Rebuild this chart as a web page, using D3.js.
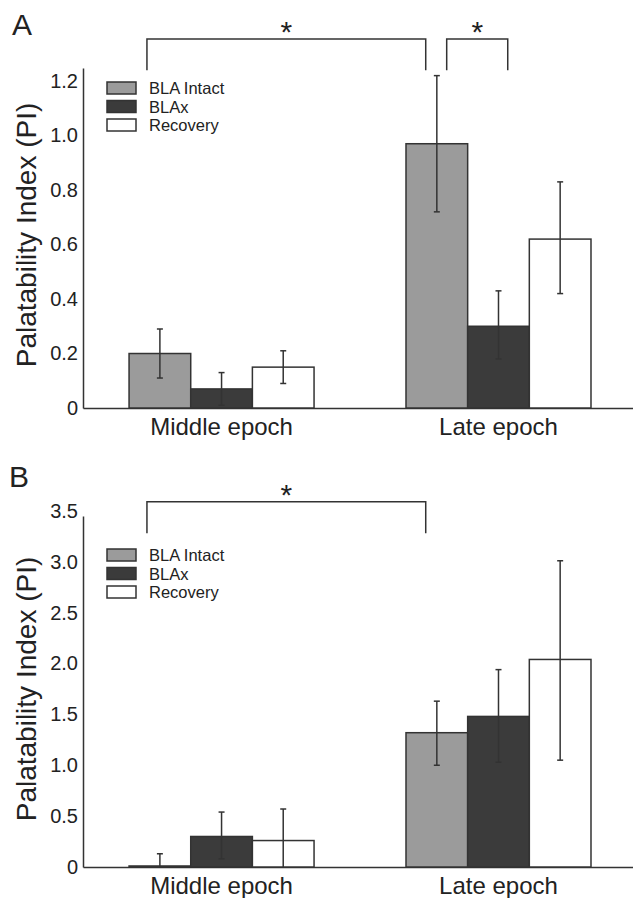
<!DOCTYPE html>
<html>
<head>
<meta charset="utf-8">
<script src="https://cdn.jsdelivr.net/npm/d3@7"></script>
<style>
    body { margin: 0; background: #fff; }
    text { font-family: "Liberation Sans", Arial, sans-serif; fill: #222; }
</style>
</head>
<body>
<div id="chart"></div>
<script>
// categories
const groups = ["Middle epoch", "Late epoch"];
const series = ["BLA Intact", "BLAx", "Recovery"];

// panel A values [group][series]
const meanA = [[0.20, 0.07, 0.15], [0.97, 0.30, 0.62]];
const hiA = [[0.29, 0.13, 0.21], [1.22, 0.43, 0.83]];
const loA = [[0.11, 0.01, 0.09], [0.72, 0.18, 0.42]];
const ticksA = [0, 0.2, 0.4, 0.6, 0.8, 1.0, 1.2];
const tickLabelsA = ["0", "0.2", "0.4", "0.6", "0.8", "1.0", "1.2"];

// panel B values [group][series]
const meanB = [[0.01, 0.30, 0.26], [1.32, 1.48, 2.04]];
const hiB = [[0.13, 0.54, 0.57], [1.63, 1.94, 3.01]];
const loB = [[0.00, 0.08, 0.00], [1.00, 1.03, 1.05]];
const ticksB = [0, 0.5, 1.0, 1.5, 2.0, 2.5, 3.0, 3.5];
const tickLabelsB = ["0", "0.5", "1.0", "1.5", "2.0", "2.5", "3.0", "3.5"];

// significance brackets: [group, series, fraction across bar]
const bracketsA = [
    { from: [0, 0, 0.29], to: [1, 0, 0.32], top: 1.354, leg: 1.24 },
    { from: [1, 0, 0.66], to: [1, 1, 0.65], top: 1.354, leg: 1.24 }
];
const bracketsB = [
    { from: [0, 0, 0.29], to: [1, 0, 0.32], top: 3.59, leg: 3.28 }
];

const fills = ["#9b9b9b", "#3b3b3b", "#ffffff"];
const ink = "#333";

const W = 633, H = 898;
const svg = d3.select("#chart").append("svg")
    .attr("width", W).attr("height", H);

const x = d3.scaleBand()
    .domain(groups)
    .range([83, 633])
    .paddingInner(0.332)
    .paddingOuter(0.159)
    .align(0.523);

const xs = d3.scaleBand()
    .domain(series)
    .range([0, x.bandwidth()]);

function barX(g, s, f) {
    return x(groups[g]) + xs(series[s]) + f * xs.bandwidth();
}

function panel(opt) {
    const y = d3.scaleLinear().domain([0, opt.top]).range([opt.base, opt.axisTop]);
    const g = svg.append("g");

    // panel letter
    g.append("text")
        .attr("x", opt.letterX).attr("y", opt.letterY)
        .style("font-size", "30px")
        .text(opt.letter);

    // y axis
    const yAxis = g.append("g")
        .attr("transform", "translate(83,0)")
        .call(d3.axisLeft(y).tickValues(opt.ticks)
            .tickFormat((d, i) => opt.tickLabels[i])
            .tickSize(0).tickPadding(5));
    yAxis.select(".domain").attr("stroke", ink).attr("stroke-width", 1.5);
    yAxis.selectAll("text").style("font-size", "20px").attr("fill", "#222");

    // x axis
    const xAxis = g.append("g")
        .attr("transform", "translate(0," + opt.base + ")")
        .call(d3.axisBottom(x).tickSize(0).tickSizeOuter(0).tickPadding(10));
    xAxis.select(".domain").attr("stroke", ink).attr("stroke-width", 1.5);
    xAxis.selectAll("text").style("font-size", "24px").attr("fill", "#222");

    // y label
    g.append("text")
        .attr("transform", "rotate(-90)")
        .attr("x", -opt.labelY).attr("y", 36)
        .attr("text-anchor", "middle")
        .style("font-size", "28px")
        .text("Palatability Index (PI)");

    // bars
    const rows = [];
    groups.forEach((gr, gi) => series.forEach((s, si) => rows.push({
        g: gi, s: si, mean: opt.mean[gi][si], hi: opt.hi[gi][si], lo: opt.lo[gi][si]
    })));

    g.selectAll(".bar").data(rows).enter().append("rect")
        .attr("class", "bar")
        .attr("x", d => barX(d.g, d.s, 0))
        .attr("width", xs.bandwidth())
        .attr("y", d => y(d.mean))
        .attr("height", d => Math.max(0.5, y(0) - y(d.mean)))
        .attr("fill", d => fills[d.s])
        .attr("stroke", ink)
        .attr("stroke-width", 1.5);

    // error bars
    const cap = 3;
    const err = g.selectAll(".err").data(rows).enter().append("g")
        .attr("class", "err")
        .attr("stroke", ink).attr("stroke-width", 1.5);
    err.append("line")
        .attr("x1", d => barX(d.g, d.s, 0.5)).attr("x2", d => barX(d.g, d.s, 0.5))
        .attr("y1", d => y(d.hi)).attr("y2", d => y(d.lo));
    err.append("line")
        .attr("x1", d => barX(d.g, d.s, 0.5) - cap).attr("x2", d => barX(d.g, d.s, 0.5) + cap)
        .attr("y1", d => y(d.hi)).attr("y2", d => y(d.hi));
    err.filter(d => d.lo > 0).append("line")
        .attr("x1", d => barX(d.g, d.s, 0.5) - cap).attr("x2", d => barX(d.g, d.s, 0.5) + cap)
        .attr("y1", d => y(d.lo)).attr("y2", d => y(d.lo));

    // brackets
    opt.brackets.forEach(b => {
        const x1 = barX(b.from[0], b.from[1], b.from[2]);
        const x2 = barX(b.to[0], b.to[1], b.to[2]);
        g.append("path")
            .attr("d", "M" + x1 + "," + y(b.leg) + "V" + y(b.top) + "H" + x2 + "V" + y(b.leg))
            .attr("fill", "none").attr("stroke", ink).attr("stroke-width", 1.5);
        g.append("text")
            .attr("x", (x1 + x2) / 2).attr("y", y(b.top) + 3)
            .attr("text-anchor", "middle")
            .style("font-size", "30px")
            .text("*");
    });

    // legend
    const leg = g.selectAll(".leg").data(series).enter().append("g")
        .attr("class", "leg")
        .attr("transform", (d, i) => "translate(107," + (opt.legendY + i * 18.5) + ")");
    leg.append("rect")
        .attr("width", 29).attr("height", 12)
        .attr("fill", (d, i) => fills[i])
        .attr("stroke", ink).attr("stroke-width", 1.5);
    leg.append("text")
        .attr("x", 42).attr("y", 12)
        .style("font-size", "16.5px")
        .text(d => d);
}

panel({
    letter: "A", letterX: 12, letterY: 35,
    base: 408, axisTop: 68, top: 1.248,
    ticks: ticksA, tickLabels: tickLabelsA,
    mean: meanA, hi: hiA, lo: loA,
    brackets: bracketsA, legendY: 82, labelY: 235
});

panel({
    letter: "B", letterX: 9, letterY: 487,
    base: 867, axisTop: 516, top: 3.45,
    ticks: ticksB, tickLabels: tickLabelsB,
    mean: meanB, hi: hiB, lo: loB,
    brackets: bracketsB, legendY: 549, labelY: 689
});
</script>
</body>
</html>
